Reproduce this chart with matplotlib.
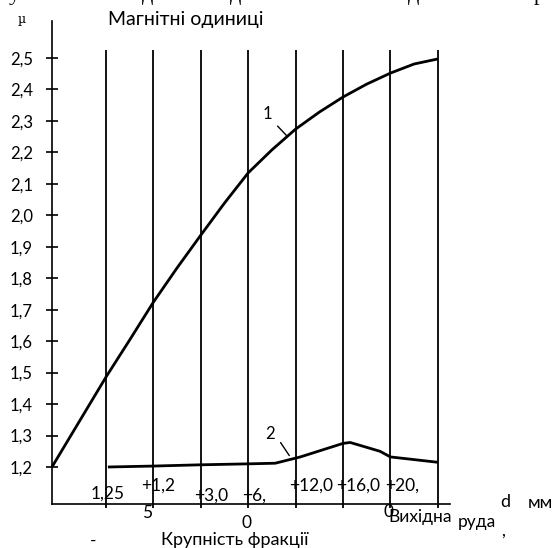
import matplotlib
matplotlib.use("Agg")
import matplotlib.pyplot as plt
import numpy as np

plt.rcParams['font.family'] = ['Lato', 'DejaVu Sans']

# verticals (fractions) sit at x = 1..8, the mu axis at x = -0.14
y_axis_x = -0.14
fraction_x = np.arange(1, 9)

# curve 1 - magnetic units of the fractions
curve1_x = [-0.14, 1, 1.5, 2, 2.5, 3, 3.5, 4, 4.5, 5, 5.5, 6, 6.5, 7, 7.5, 8]
curve1_y = [1.200, 1.486, 1.604, 1.724, 1.833, 1.937, 2.039, 2.135, 2.208,
            2.274, 2.328, 2.376, 2.417, 2.452, 2.481, 2.497]

# curve 2
curve2_x = [1.04, 2, 3, 4, 4.57, 5.1, 6, 6.15, 6.78, 7, 8]
curve2_y = [1.200, 1.203, 1.207, 1.210, 1.212, 1.232, 1.275, 1.278, 1.250, 1.232, 1.215]

yticks = [1.2, 1.3, 1.4, 1.5, 1.6, 1.7, 1.8, 1.9, 2.0, 2.1, 2.2, 2.3, 2.4, 2.5]
ytick_labels = [f"{v:.1f}".replace('.', ',') for v in yticks]

# broken-up fraction captions as they appear under the chart: (text, px x, px y)
fraction_texts = [
    ("1,25", 108, 494), ("-", 93, 541),
    ("+1,2", 158, 486), ("5", 147, 513),
    ("+3,0", 211, 496), ("0", 247, 523),
    ("+6,", 254, 496),
    ("+12,0", 311, 486), ("+16,0", 358, 486),
    ("+20,", 402, 486), ("0", 389, 512),
    ("Вихідна", 420, 517), ("руда", 477, 522), (",", 503, 531),
]

W, H = 552, 548
fig = plt.figure(figsize=(W / 100, H / 100), dpi=100)
ax = fig.add_axes([0, 0, 1, 1])

# pixel mapping: px = 106 + 47.4*(x-1), py = 467 - 314.6*(v-1.2)
ax.set_xlim(1 - 106 / 47.4, 1 + (W - 106) / 47.4)
ax.set_ylim(1.2 - (H - 467) / 314.6, 1.2 + 467 / 314.6)

def px(x, y):
    return x / W, 1 - y / H

x_axis_v = 1.082
ax.vlines(fraction_x, 1.070, 2.525, color='black', lw=1.3)
ax.plot(curve1_x, curve1_y, color='black', lw=2.0, solid_capstyle='butt')
ax.plot(curve2_x, curve2_y, color='black', lw=2.0, solid_capstyle='butt')

for s in ['top', 'right']:
    ax.spines[s].set_visible(False)
ax.spines['left'].set_position(('data', y_axis_x))
ax.spines['left'].set_bounds(x_axis_v, 2.618)
ax.spines['bottom'].set_position(('data', x_axis_v))
ax.spines['bottom'].set_bounds(y_axis_x, 8.25)
ax.spines['left'].set_linewidth(1.2)
ax.spines['bottom'].set_linewidth(1.2)
ax.set_xticks([])
ax.set_yticks(yticks)
ax.set_yticklabels(ytick_labels)
ax.tick_params(axis='y', direction='inout', length=8, width=1.2, pad=9.7, labelsize=12)
ax.patch.set_visible(False)

# curve labels with leader lines
fig.text(*px(267, 114), "1", fontsize=12, ha='center', va='center')
ax.annotate("", xy=(4.85, 2.247), xytext=(4.58, 2.29),
            arrowprops=dict(arrowstyle='-', lw=1.0, color='black'))
fig.text(*px(270, 434), "2", fontsize=12, ha='center', va='center')
ax.annotate("", xy=(4.9, 1.229), xytext=(4.65, 1.285),
            arrowprops=dict(arrowstyle='-', lw=1.0, color='black'))

fig.text(*px(22, 20), "µ", fontsize=9, ha='center', va='center', family='DejaVu Serif')
fig.text(*px(186, 19), "Магнітні одиниці", fontsize=14, ha='center', va='center')
fig.text(*px(505, 502), "d", fontsize=13, ha='center', va='center')
fig.text(*px(540, 503), "мм", fontsize=13, ha='center', va='center')
fig.text(*px(235, 540), "Крупність фракції", fontsize=13, ha='center', va='center')

for t, x, y in fraction_texts:
    fig.text(*px(x, y), t, fontsize=12.5, ha='center', va='center')

# tails of the line of text above the figure, cut by the top edge
for t, x in [("у", 14), ("д", 148), ("д", 236), ("д", 414), ("р", 539)]:
    fig.text(*px(x, 0), t, fontsize=16, ha='center', va='baseline', family='Liberation Serif')

fig.savefig("out.png", dpi=100)
